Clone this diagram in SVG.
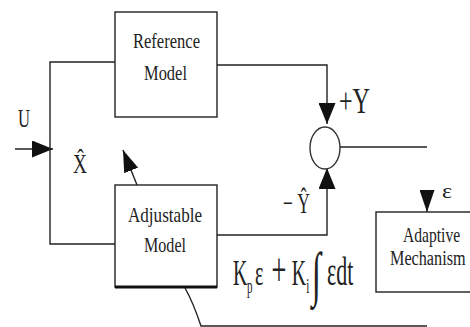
<svg xmlns="http://www.w3.org/2000/svg" width="470" height="327" viewBox="0 0 470 327">
<style>
.ln{fill:none;stroke:#222;stroke-width:1.4}
.box{fill:#fff;stroke:#222;stroke-width:1.4}
.t{font-family:"Liberation Serif","Times New Roman",serif;fill:#222}
</style>
<defs>
<marker id="arrowL" viewBox="0 0 21 17" refX="21" refY="8.5" markerWidth="21" markerHeight="17" markerUnits="userSpaceOnUse" orient="auto"><path d="M0,0 L21,8.5 L0,17 z" fill="#111"/></marker>
<marker id="arrowS" viewBox="0 0 22 15" refX="22" refY="7.5" markerWidth="22" markerHeight="15" markerUnits="userSpaceOnUse" orient="auto"><path d="M0,0 L22,7.5 L0,15 z" fill="#111"/></marker>
</defs>
<rect width="470" height="327" fill="#fff"/>
<g id="connectors">
<path class="ln" d="M15,149 H53" marker-end="url(#arrowL)"/>
<path class="ln" d="M115,62 H50 V244 H115"/>
<path class="ln" d="M217,65 H327 V124" marker-end="url(#arrowL)"/>
<path class="ln" d="M217,235 H327 V168" marker-end="url(#arrowL)"/>
<path class="ln" d="M340,147 H427"/>
<path class="ln" d="M137,185 L123,150" marker-end="url(#arrowS)"/>
<path class="ln" d="M427,190 V212" marker-end="url(#arrowS)"/>
<path class="ln" d="M185,288 Q193,302 201,326 H427"/>
</g>
<g id="reference-model">
<rect class="box" x="115" y="12" width="102" height="105"/>
<text class="t" x="133" y="48" font-size="22" textLength="67" lengthAdjust="spacingAndGlyphs">Reference</text>
<text class="t" x="144" y="80" font-size="22" textLength="43" lengthAdjust="spacingAndGlyphs">Model</text>
</g>
<g id="adjustable-model">
<rect class="box" x="115" y="185" width="102" height="102"/>
<path d="M115,287 H217" stroke="#111" stroke-width="3"/>
<text class="t" x="128" y="222" font-size="21" textLength="74" lengthAdjust="spacingAndGlyphs">Adjustable</text>
<text class="t" x="144" y="252" font-size="22" textLength="42" lengthAdjust="spacingAndGlyphs">Model</text>
</g>
<g id="summing-junction">
<ellipse cx="325" cy="148" rx="15" ry="21" fill="#fff" stroke="#333" stroke-width="1.4"/>
</g>
<g id="adaptive-mechanism">
<rect class="box" x="376" y="212" width="95" height="80"/>
<text class="t" transform="translate(403,242) scale(0.78,1)" x="0" y="0" font-size="20">Adaptive</text>
<text class="t" transform="translate(390,265) scale(0.81,1)" x="0" y="0" font-size="20">Mechanism</text>
</g>
<g id="labels">
<text class="t" x="18" y="127" font-size="25" textLength="12" lengthAdjust="spacingAndGlyphs">U</text>
<text class="t" x="73" y="173" font-size="28" textLength="14" lengthAdjust="spacingAndGlyphs">X̂</text>
<text class="t" x="339" y="113" font-size="36" textLength="31" lengthAdjust="spacingAndGlyphs">+Y</text>
<text class="t" x="283" y="213" font-size="30" textLength="27" lengthAdjust="spacingAndGlyphs">− Ŷ</text>
<text class="t" x="442" y="198" font-size="22" textLength="10" lengthAdjust="spacingAndGlyphs">ε</text>
<text class="t" transform="translate(233,0) scale(0.55,1)" font-size="36"><tspan x="0" y="285">K</tspan><tspan x="25.5" y="293" font-size="20">p</tspan><tspan x="40" y="285">ε</tspan><tspan x="70" y="286" font-size="48">+</tspan><tspan x="107" y="285">K</tspan><tspan x="133" y="293" font-size="20">i</tspan><tspan x="143" y="294" font-size="60">∫</tspan><tspan x="171" y="285" font-size="40">εdt</tspan></text>
</g>
</svg>
